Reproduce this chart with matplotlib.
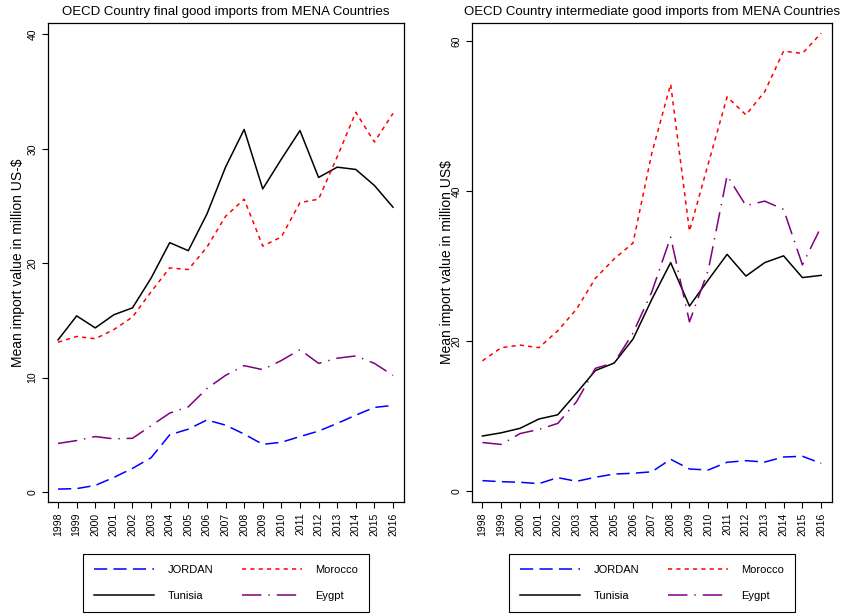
import matplotlib
matplotlib.use("Agg")
import matplotlib.pyplot as plt
from matplotlib.lines import Line2D

plt.rcParams['font.family'] = ['Liberation Sans', 'DejaVu Sans']
plt.rcParams['lines.scale_dashes'] = False

YEARS = list(range(1998, 2017))

# final goods (left panel)
FINAL_JORDAN = [0.26, 0.3, 0.58, 1.28, 2.07, 3.0, 5.0, 5.5, 6.3, 5.85, 5.07, 4.17,
                4.35, 4.85, 5.33, 6.0, 6.72, 7.4, 7.57]
FINAL_TUNISIA = [13.3, 15.4, 14.35, 15.5, 16.1, 18.7, 21.8, 21.1, 24.3, 28.4, 31.7, 26.5,
                 29.1, 31.6, 27.5, 28.4, 28.2, 26.8, 24.9]
FINAL_MOROCCO = [13.1, 13.6, 13.4, 14.2, 15.3, 17.5, 19.6, 19.45, 21.4, 24.1, 25.6, 21.5,
                 22.3, 25.3, 25.6, 29.3, 33.2, 30.6, 33.1]
FINAL_EGYPT = [4.25, 4.5, 4.85, 4.65, 4.7, 5.8, 6.9, 7.45, 9.05, 10.2, 11.05, 10.7,
               11.5, 12.45, 11.25, 11.7, 11.9, 11.25, 10.2]

# intermediate goods (right panel)
INTER_JORDAN = [1.42, 1.28, 1.2, 1.02, 1.82, 1.33, 1.87, 2.3, 2.4, 2.6, 4.27, 2.97,
                2.84, 3.87, 4.08, 3.9, 4.57, 4.67, 3.73]
INTER_TUNISIA = [7.37, 7.8, 8.4, 9.64, 10.2, 13.1, 16.1, 17.1, 20.3, 25.6, 30.5, 24.7,
                 28.2, 31.6, 28.7, 30.5, 31.4, 28.5, 28.8]
INTER_MOROCCO = [17.4, 19.15, 19.5, 19.15, 21.4, 24.3, 28.4, 31.0, 33.1, 45.1, 54.3, 34.7,
                 43.7, 52.6, 50.2, 53.3, 58.7, 58.4, 61.1]
INTER_EGYPT = [6.5, 6.25, 7.7, 8.25, 9.05, 11.95, 16.4, 17.15, 21.1, 26.6, 33.9, 22.6,
               29.5, 42.1, 38.1, 38.7, 37.6, 30.2, 35.3]

STYLES = {
    'JORDAN': dict(color='blue', dashes=(9.5, 4.5)),
    'Tunisia': dict(color='black'),
    'Morocco': dict(color='red', dashes=(3, 3)),
    'Eygpt': dict(color='purple', dashes=(14, 5, 1, 5)),
}


def draw_panel(ax, series, title, ylabel, yticks, ylim, label_x):
    for name, vals in series:
        ax.plot(YEARS, vals, linewidth=1.1, **STYLES[name], label=name)
    ax.set_xlim(1997.46, 2016.59)
    ax.set_ylim(*ylim)
    ax.set_xticks(YEARS)
    ax.set_xticklabels([str(y) for y in YEARS], rotation=90, fontsize=7.5)
    ax.set_yticks(yticks)
    ax.set_yticklabels([str(t) for t in yticks], rotation=90, va='center', fontsize=7.5)
    ax.tick_params(direction='out', length=4, width=0.8)
    for sp in ax.spines.values():
        sp.set_linewidth(0.9)
    ax.set_title(title, fontsize=9.5, pad=6)
    ax.set_ylabel(ylabel, fontsize=10)
    ax.yaxis.set_label_coords(label_x, 0.5)


fig = plt.figure(figsize=(8.42, 6.14), dpi=100)
ax1 = fig.add_axes([0.0570, 0.1824, 0.4228, 0.7801])
ax2 = fig.add_axes([0.5609, 0.1824, 0.4276, 0.7801])

draw_panel(ax1,
           [('JORDAN', FINAL_JORDAN), ('Tunisia', FINAL_TUNISIA),
            ('Morocco', FINAL_MOROCCO), ('Eygpt', FINAL_EGYPT)],
           'OECD Country final good imports from MENA Countries',
           'Mean import value in million US-$', [0, 10, 20, 30, 40], (-0.87, 41.0), -0.064)
draw_panel(ax2,
           [('JORDAN', INTER_JORDAN), ('Tunisia', INTER_TUNISIA),
            ('Morocco', INTER_MOROCCO), ('Eygpt', INTER_EGYPT)],
           'OECD Country intermediate good imports from MENA Countries',
           'Mean import value in million US$', [0, 20, 40, 60], (-1.43, 62.45), -0.052)

# legends below each panel
for (x0, x1) in [(85.7, 366.7), (512, 792.3)]:
    handles = [Line2D([], [], linewidth=1.1, **STYLES[n]) for n in ['JORDAN', 'Tunisia', 'Morocco', 'Eygpt']]
    leg = fig.legend(handles, ['JORDAN', 'Tunisia', 'Morocco', 'Eygpt'], ncol=2,
                     loc='center', bbox_to_anchor=((x0 + x1) / 2 / 842, 1 - 583 / 614),
                     fontsize=8, handlelength=5.4, handletextpad=1.2, columnspacing=2.6,
                     labelspacing=1.45, borderpad=1.0, borderaxespad=0,
                     fancybox=False, edgecolor='black', framealpha=1)
    leg.get_frame().set_linewidth(0.8)

fig.savefig('out.png', dpi=100)
